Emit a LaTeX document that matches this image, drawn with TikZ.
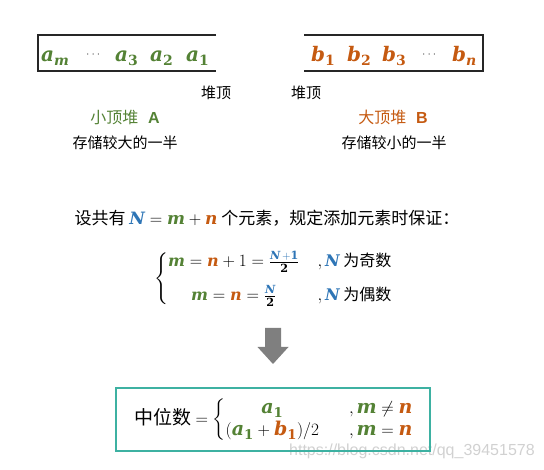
\documentclass[tikz,border=0pt]{standalone}
\usepackage{amsmath}
\usepackage{fontspec}
\setmainfont{Noto Sans CJK SC}
\newfontfamily\wmfont{Liberation Sans}
\newfontfamily\varfont{DejaVu Serif}
\usetikzlibrary{calc}
\definecolor{agreen}{HTML}{548235}
\definecolor{borange}{HTML}{C55A11}
\definecolor{nblue}{HTML}{2E75B6}
\definecolor{tealbox}{HTML}{3DB1A2}
\definecolor{arrowgray}{HTML}{7F7F7F}
\newcommand{\V}[1]{\text{\varfont\bfseries\itshape #1}}
\newcommand{\D}[1]{\text{\varfont\bfseries #1}}
\newcommand{\gA}[1]{{\color{agreen}\V{a}_{#1}}}
\newcommand{\oB}[1]{{\color{borange}\V{b}_{#1}}}
\newcommand{\mG}{{\color{agreen}\V{m}}}
\newcommand{\nO}{{\color{borange}\V{n}}}
\newcommand{\NBl}{{\color{nblue}\V{N}}}
\tikzset{
  heapline/.style={line width=1.4pt, draw=black!85},
  elem/.style={inner sep=0pt, anchor=base west, font=\fontsize{20}{24}\selectfont},
  dots/.style={inner sep=0pt, anchor=base west, font=\fontsize{12}{14}\selectfont, text=black!70},
  lbl/.style={inner sep=0pt, font=\fontsize{15}{18}\selectfont},
  heapname/.style={inner sep=0pt, font=\fontsize{16}{19}\selectfont},
  formula/.style={inner sep=0pt, font=\fontsize{16}{19}\selectfont},
}
\begin{document}
\begin{tikzpicture}[x=1pt,y=1pt]
\useasboundingbox (0,0) rectangle (544,-470);
% heap A box (open on the right)
\coordinate (A1) at (216,-35);
\coordinate (A2) at (38,-35);
\coordinate (A3) at (38,-71);
\coordinate (A4) at (216,-71);
\draw[heapline] (A1) -- (A2) -- (A3) -- (A4);
% heap B box (open on the left)
\coordinate (B1) at (304,-35);
\coordinate (B2) at (483,-35);
\coordinate (B3) at (483,-71);
\coordinate (B4) at (304,-71);
\draw[heapline] (B1) -- (B2) -- (B3) -- (B4);
% elements
\node[elem] (am) at (41,-62) {$\gA{\V{m}}$};
\node[dots] (ad) at (86,-58) {$\cdots$};
\node[elem] (a3) at (115,-62) {$\gA{\D{3}}$};
\node[elem] (a2) at (150,-62) {$\gA{\D{2}}$};
\node[elem] (a1) at (186,-62) {$\gA{\D{1}}$};
\node[elem] (b1) at (311,-62) {$\oB{\D{1}}$};
\node[elem] (b2) at (347,-62) {$\oB{\D{2}}$};
\node[elem] (b3) at (382,-62) {$\oB{\D{3}}$};
\node[dots] (bd) at (422,-58) {$\cdots$};
\node[elem] (bn) at (452,-62) {$\oB{\V{n}}$};
% labels
\node[lbl] (topA) at (216,-93) {堆顶};
\node[lbl] (topB) at (306,-93) {堆顶};
\node[heapname, text=agreen] (nameA) at (125,-117) {小顶堆\hspace{0.6em}{\wmfont\bfseries A}};
\node[lbl] (descA) at (125,-143) {存储较大的一半};
\node[heapname, text=borange] (nameB) at (393,-117) {大顶堆\hspace{0.6em}{\wmfont\bfseries B}};
\node[lbl] (descB) at (394,-143) {存储较小的一半};
% statement
\node[formula, font=\fontsize{17}{20}\selectfont] (stmt) at (267,-218) {设共有 $\NBl = \mG + \nO$ 个元素，规定添加元素时保证：};
\node[formula, anchor=west] (cases) at (154,-279) {$\left\{\begin{array}{@{}c@{\hspace{18pt}}l@{}}
\mG = \nO + 1 = \frac{\NBl{\color{nblue}\,+\D{1}}}{\D{2}} & ,\NBl\ \text{为奇数}\\[13pt]
\mG = \nO = \frac{\NBl}{\D{2}} & ,\NBl\ \text{为偶数}
\end{array}\right.$};
% block arrow
\coordinate (s1) at (265,-328);
\coordinate (s2) at (281,-328);
\coordinate (s3) at (281,-347);
\coordinate (h1) at (288.5,-347);
\coordinate (tip) at (273,-364);
\coordinate (h2) at (257.5,-347);
\coordinate (s4) at (265,-347);
\fill[arrowgray] (s1) -- (s2) -- (s3) -- (h1) -- (tip) -- (h2) -- (s4) -- cycle;
% watermark
\node[inner sep=0pt, anchor=west, font=\wmfont\fontsize{16}{19}\selectfont, text=black!18] (wm) at (289,-451) {https://blog.csdn.net/qq\_39451578};
% result box
\node[draw=tealbox, line width=1.3pt, minimum width=314pt, minimum height=63pt, inner sep=0pt] (res) at (273,-419.5) {};
\node[inner sep=0pt, font=\fontsize{19}{22}\selectfont] (med) at (274,-420) {中位数 $=\left\{\begin{array}{@{}c@{\hspace{30pt}}l@{}}
\gA{\D{1}} & ,\mG \neq \nO\\
(\gA{\D{1}} + \oB{\D{1}})/2 & ,\mG = \nO
\end{array}\right.$};
\end{tikzpicture}
\end{document}
